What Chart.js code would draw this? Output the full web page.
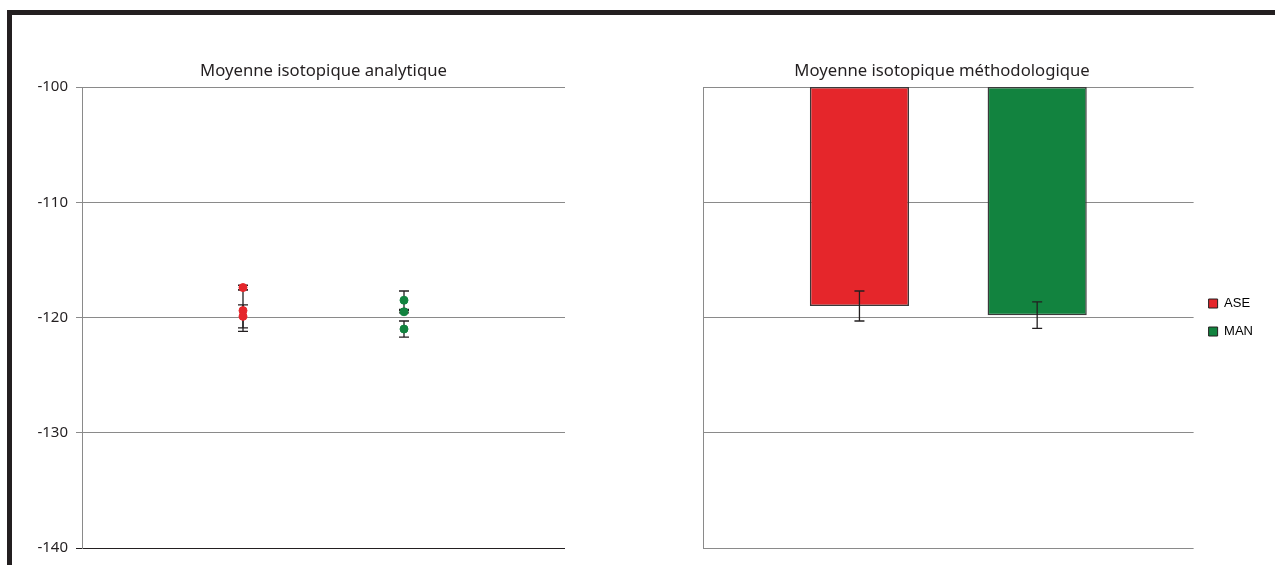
<!DOCTYPE html>
<html>
<head>
<meta charset="utf-8">
<script src="https://cdn.jsdelivr.net/npm/chart.js@4"></script>
<style>
  body { margin: 0; background: #fff; width: 1275px; height: 565px; overflow: hidden; position: relative; }
  #frame { position: absolute; left: 7px; top: 10px; width: 1300px; height: 600px;
           border-left: 5px solid #231f20; border-top: 5px solid #231f20; }
  canvas { position: absolute; top: 0; }
  #c1 { left: 0; }
  #c2 { left: 621px; }
</style>
</head>
<body>
<div id="frame"></div>
<canvas id="c1" width="640" height="565"></canvas>
<canvas id="c2" width="654" height="565"></canvas>
<script>
// values
const seriesNames = ['ASE', 'MAN'];
const seriesColors = ['#e5262b', '#12833f'];
const aseAnalytValues = [-117.4, -119.4, -119.9];
const aseAnalytErrors = [0.2, 1.8, 1.0];
const manAnalytValues = [-118.5, -119.5, -121.0];
const manAnalytErrors = [0.8, 0.1, 0.7];
const methodMeans = [-119.0, -119.8];
const methodErrors = [1.3, 1.15];
const yTicks = [-100, -110, -120, -130, -140];

const titleFont = { family: 'Noto Sans', size: 16.7, weight: 'normal' };
const tickFont = { family: 'Noto Sans', size: 15 };

// error bars; behind the marks for the points, in front for the bars
function drawErrors(chart, capWidth) {
    const ctx = chart.ctx;
    const y = chart.scales.y;
    ctx.save();
    ctx.strokeStyle = '#231f20';
    ctx.lineWidth = 1.3;
    chart.data.datasets.forEach((ds, di) => {
        if (!ds.errors) return;
        const meta = chart.getDatasetMeta(di);
        meta.data.forEach((el, i) => {
            const v = ds.means ? ds.means[i] : ds.data[i].y;
            const e = ds.errors[i];
            const x = el.x;
            const yt = y.getPixelForValue(v + e);
            const yb = y.getPixelForValue(v - e);
            const hw = capWidth / 2;
            ctx.beginPath();
            ctx.moveTo(x, yt); ctx.lineTo(x, yb);
            ctx.moveTo(x - hw, yt); ctx.lineTo(x + hw, yt);
            ctx.moveTo(x - hw, yb); ctx.lineTo(x + hw, yb);
            ctx.stroke();
        });
    });
    ctx.restore();
}

const errorBars = {
    id: 'errorBars',
    beforeDatasetsDraw(chart, args, opts) { if (!opts.front) drawErrors(chart, opts.capWidth); },
    afterDatasetsDraw(chart, args, opts) { if (opts.front) drawErrors(chart, opts.capWidth); }
};

function yScale(showTicks, width) {
    return {
        min: -140, max: -100,
        afterBuildTicks: s => { s.ticks = yTicks.map(v => ({ value: v })); },
        afterFit: s => { s.width = width; },
        border: { display: true, color: '#8a8a8a', width: 1 },
        grid: {
            color: c => (showTicks && c.tick && c.tick.value === -140) ? '#231f20' : '#8a8a8a',
            lineWidth: 1,
            drawTicks: showTicks,
            tickLength: 6
        },
        ticks: { display: showTicks, color: '#231f20', font: tickFont, padding: 8 }
    };
}

new Chart(document.getElementById('c1'), {
    type: 'scatter',
    data: {
        datasets: [
            {
                label: seriesNames[0],
                data: aseAnalytValues.map(v => ({ x: 1, y: v })),
                errors: aseAnalytErrors,
                backgroundColor: seriesColors[0],
                borderColor: seriesColors[0],
                pointRadius: 4
            },
            {
                label: seriesNames[1],
                data: manAnalytValues.map(v => ({ x: 2, y: v })),
                errors: manAnalytErrors,
                backgroundColor: seriesColors[1],
                borderColor: seriesColors[1],
                pointRadius: 4
            }
        ]
    },
    options: {
        responsive: false,
        animation: false,
        layout: { padding: { top: 61, right: 75, bottom: 17, left: 0 } },
        plugins: {
            legend: { display: false },
            tooltip: { enabled: false },
            title: { display: true, fullSize: false, text: 'Moyenne isotopique analytique', color: '#231f20',
                     font: titleFont, padding: { top: 0, bottom: 6 } },
            errorBars: { capWidth: 10, front: false }
        },
        scales: {
            x: { type: 'linear', min: 0, max: 3, display: false },
            y: yScale(true, 82)
        }
    },
    plugins: [errorBars]
});

new Chart(document.getElementById('c2'), {
    type: 'bar',
    data: {
        labels: [''],
        datasets: seriesNames.map((name, i) => ({
            label: name,
            data: [[-100, methodMeans[i]]],
            means: [methodMeans[i]],
            errors: [methodErrors[i]],
            backgroundColor: seriesColors[i],
            borderColor: '#3a3a3a',
            borderWidth: 1.5,
            borderSkipped: false,
            categoryPercentage: 0.7245,
            barPercentage: 0.558
        }))
    },
    options: {
        responsive: false,
        animation: false,
        layout: { padding: { top: 61, right: 12, bottom: 17, left: 0 } },
        plugins: {
            legend: {
                position: 'right',
                fullSize: false,
                labels: {
                    color: '#231f20',
                    font: { family: 'Liberation Sans', size: 13 },
                    boxWidth: 9, boxHeight: 9, padding: 15,
                    generateLabels: chart => chart.data.datasets.map((ds, i) => ({
                        text: ds.label, fillStyle: ds.backgroundColor,
                        strokeStyle: '#231f20', lineWidth: 1, datasetIndex: i
                    }))
                }
            },
            tooltip: { enabled: false },
            title: { display: true, text: 'Moyenne isotopique méthodologique', color: '#231f20',
                     font: titleFont, padding: { top: 0, bottom: 6 } },
            errorBars: { capWidth: 10, front: true }
        },
        scales: {
            x: { display: false },
            y: yScale(false, 82)
        }
    },
    plugins: [errorBars]
});
</script>
</body>
</html>
